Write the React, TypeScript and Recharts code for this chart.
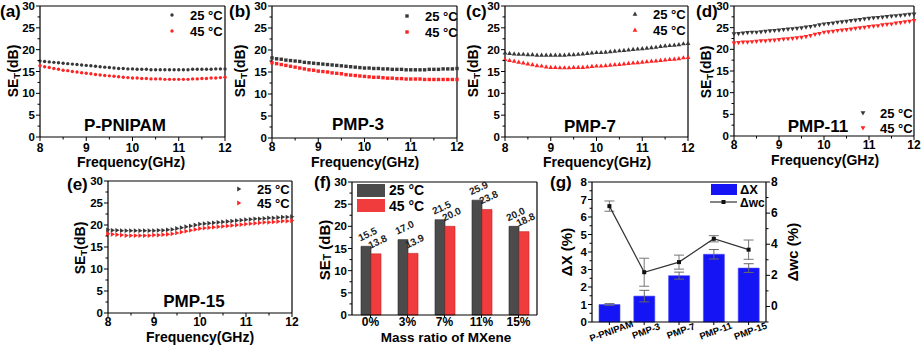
import React from "react";
import {
  ScatterChart,
  Scatter,
  XAxis,
  YAxis,
  BarChart,
  Bar,
  LabelList,
  ComposedChart,
  Line,
  ErrorBar,
} from "recharts";

const FONT = "'Liberation Sans', Arial, Helvetica, sans-serif";

// shared frequency axis (GHz)
const FREQ = [
  8.0, 8.1, 8.2, 8.3, 8.4, 8.5, 8.6, 8.7, 8.8, 8.9, 9.0, 9.1, 9.2, 9.3, 9.4, 9.5, 9.6, 9.7, 9.8, 9.9, 10.0,
  10.1, 10.2, 10.3, 10.4, 10.5, 10.6, 10.7, 10.8, 10.9, 11.0, 11.1, 11.2, 11.3, 11.4, 11.5, 11.6, 11.7, 11.8,
  11.9, 12.0,
];

// (a) P-PNIPAM
const PNIPAM_25 = [17.4,17.3,17.2,17.1,17.0,16.9,16.8,16.7,16.6,16.5,16.4,16.3,16.2,16.1,16.0,15.9,15.8,15.7,15.7,15.6,15.6,15.5,15.5,15.5,15.4,15.4,15.4,15.4,15.4,15.4,15.4,15.4,15.4,15.5,15.5,15.5,15.5,15.5,15.6,15.6,15.6];
const PNIPAM_45 = [16.3,16.1,15.9,15.7,15.5,15.3,15.2,15.0,14.9,14.7,14.6,14.5,14.3,14.2,14.1,14.0,13.9,13.8,13.7,13.6,13.5,13.5,13.4,13.4,13.3,13.3,13.3,13.2,13.2,13.2,13.2,13.2,13.2,13.3,13.3,13.4,13.4,13.5,13.5,13.6,13.7];
// (b) PMP-3
const PMP3_25 = [18.2,18.0,17.9,17.7,17.6,17.5,17.4,17.2,17.1,17.0,16.9,16.8,16.7,16.6,16.5,16.4,16.3,16.2,16.1,16.0,15.9,15.9,15.8,15.8,15.7,15.7,15.6,15.6,15.6,15.5,15.5,15.5,15.5,15.5,15.6,15.6,15.6,15.7,15.7,15.7,15.8];
const PMP3_45 = [17.1,16.9,16.7,16.5,16.3,16.1,15.9,15.7,15.5,15.4,15.2,15.1,15.0,14.8,14.7,14.6,14.4,14.3,14.2,14.1,14.0,13.9,13.8,13.8,13.7,13.6,13.6,13.5,13.5,13.4,13.4,13.4,13.4,13.3,13.3,13.3,13.3,13.3,13.3,13.3,13.3];
// (c) PMP-7
const PMP7_25 = [19.3,19.2,19.1,19.0,19.0,18.9,18.9,18.8,18.8,18.8,18.8,18.8,18.8,18.8,18.9,18.9,19.0,19.1,19.2,19.3,19.4,19.4,19.5,19.6,19.7,19.8,19.9,20.0,20.1,20.2,20.3,20.4,20.5,20.6,20.8,20.9,21.0,21.1,21.2,21.4,21.5];
const PMP7_45 = [17.8,17.6,17.4,17.2,17.0,16.8,16.6,16.4,16.3,16.1,16.0,16.0,15.9,15.9,15.9,16.0,16.0,16.0,16.1,16.2,16.3,16.3,16.4,16.5,16.6,16.7,16.8,16.9,17.0,17.1,17.2,17.3,17.4,17.5,17.6,17.7,17.8,17.9,18.0,18.2,18.3];
// (d) PMP-11
const PMP11_25 = [23.5,23.6,23.7,23.8,23.9,23.9,24.0,24.1,24.2,24.3,24.4,24.5,24.6,24.7,24.8,24.9,25.1,25.2,25.4,25.6,25.8,25.9,26.0,26.2,26.3,26.4,26.6,26.7,26.8,27.0,27.1,27.2,27.3,27.4,27.5,27.6,27.7,27.8,27.9,28.0,28.1];
const PMP11_45 = [21.4,21.5,21.6,21.6,21.7,21.8,21.9,21.9,22.0,22.1,22.2,22.3,22.4,22.5,22.6,22.7,22.9,23.1,23.4,23.6,23.9,24.0,24.1,24.3,24.4,24.5,24.6,24.8,24.9,25.0,25.2,25.3,25.4,25.6,25.7,25.8,26.0,26.1,26.3,26.4,26.6];
// (e) PMP-15
const PMP15_25 = [18.9,18.8,18.8,18.7,18.7,18.7,18.7,18.7,18.7,18.7,18.7,18.8,18.8,18.9,19.0,19.2,19.4,19.6,19.8,20.0,20.2,20.3,20.4,20.5,20.6,20.7,20.8,20.9,21.0,21.1,21.2,21.3,21.4,21.4,21.5,21.6,21.6,21.7,21.8,21.8,21.9];
const PMP15_45 = [18.0,17.9,17.8,17.7,17.6,17.6,17.6,17.6,17.6,17.6,17.7,17.7,17.8,17.9,18.0,18.2,18.4,18.6,18.8,19.0,19.2,19.3,19.4,19.5,19.6,19.7,19.8,19.9,20.0,20.1,20.2,20.3,20.4,20.5,20.6,20.6,20.7,20.8,20.9,20.9,21.0];

// (f) average SE_T per mass ratio
const MASS_RATIOS = ["0%", "3%", "7%", "11%", "15%"];
const SE_AVG_25 = [15.5, 17.0, 21.5, 25.9, 20.0];
const SE_AVG_45 = [13.8, 13.9, 20.0, 23.8, 18.8];

// (g) ΔX (bars, left) and Δwc (line, right)
const SAMPLES = ["P-PNIPAM", "PMP-3", "PMP-7", "PMP-11", "PMP-15"];
const DELTA_X = [1.0, 1.48, 2.65, 3.87, 3.08];
const DELTA_X_ERR = [0.05, 0.33, 0.2, 0.27, 0.25];
const DELTA_WC = [6.45, 2.2, 2.85, 4.35, 3.65];
const DELTA_WC_ERR = [0.33, 0.9, 0.45, 0.2, 0.62];

const FREQ_TICKS = [8, 8.5, 9, 9.5, 10, 10.5, 11, 11.5, 12];
const SE_TICKS = [0, 2.5, 5, 7.5, 10, 12.5, 15, 17.5, 20, 22.5, 25, 27.5, 30];
const DX_TICKS = [0, 0.5, 1, 1.5, 2, 2.5, 3, 3.5, 4, 4.5, 5, 5.5, 6, 6.5, 7, 7.5, 8];
const WC_TICKS = [-1, 0, 1, 2, 3, 4, 5, 6, 7, 8];

const C25 = "#383838";
const C45 = "#ff2424";
const AXIS = { stroke: "#000", strokeWidth: 1.2 };
const PAD = 45;
// axes get 1px of room each (recharts skips zero-sized axes)
const MARGIN = { top: PAD - 1, right: PAD - 1, bottom: PAD - 1, left: PAD - 1 };

function BottomTick(props: any) {
  const { x, y, payload, off = 15 } = props;
  const major = Number.isInteger(payload.value);
  return (
    <g>
      <line x1={x} x2={x} y1={y} y2={y + (major ? 4 : 2.5)} stroke="#000" />
      {major && (
        <text x={x} y={y + off} textAnchor="middle" fontSize={12} fontWeight="bold" fontFamily={FONT} fill="#000">
          {payload.value}
        </text>
      )}
    </g>
  );
}

function LeftTick(props: any) {
  const { x, y, payload, every } = props;
  const major = payload.value % every === 0;
  return (
    <g>
      <line x1={x} x2={x - (major ? 4 : 2.5)} y1={y} y2={y} stroke="#000" />
      {major && (
        <text x={x - 5} y={y + 4} textAnchor="end" fontSize={11.5} fontWeight="bold" fontFamily={FONT} fill="#000">
          {payload.value}
        </text>
      )}
    </g>
  );
}

function RightTick(props: any) {
  const { x, y, payload } = props;
  const v = payload.value;
  const major = v >= 0 && v % 2 === 0;
  return (
    <g>
      <line x1={x} x2={x + (major ? 4 : 2.5)} y1={y} y2={y} stroke="#000" />
      {major && (
        <text x={x + 5} y={y + 4} fontSize={12} fontWeight="bold" fontFamily={FONT} fill="#000">
          {v}
        </text>
      )}
    </g>
  );
}

function CatTick(props: any) {
  const { x, y, payload } = props;
  return (
    <g>
      <line x1={x} x2={x} y1={y} y2={y + 3} stroke="#000" />
      <text x={x} y={y + 11} textAnchor="middle" fontSize={12} fontWeight="bold" fontFamily={FONT} fill="#000">
        {payload.value}
      </text>
    </g>
  );
}

function SampleTick(props: any) {
  const { x, y, payload } = props;
  const tx = x + 3;
  const ty = y + 12;
  return (
    <g>
      <line x1={x} x2={x} y1={y} y2={y + 3} stroke="#000" />
      <text
        x={tx}
        y={ty}
        textAnchor="middle"
        fontSize={9.5}
        fontWeight="bold"
        fontFamily={FONT}
        fill="#000"
        transform={`rotate(-20 ${tx} ${ty})`}
      >
        {payload.value}
      </text>
    </g>
  );
}

type Shape = "circle" | "square" | "up" | "down" | "right";

function Marker({ cx, cy, shape, color }: { cx: number; cy: number; shape: Shape; color: string }) {
  if (cx == null || cy == null) return null;
  switch (shape) {
    case "circle":
      return <circle cx={cx} cy={cy} r={1.7} fill={color} />;
    case "square":
      return <rect x={cx - 1.7} y={cy - 1.7} width={3.4} height={3.4} fill={color} />;
    case "up":
      return <polygon points={`${cx},${cy - 2.4} ${cx - 2.4},${cy + 1.8} ${cx + 2.4},${cy + 1.8}`} fill={color} />;
    case "down":
      return <polygon points={`${cx},${cy + 2.4} ${cx - 2.4},${cy - 1.8} ${cx + 2.4},${cy - 1.8}`} fill={color} />;
    default:
      return <polygon points={`${cx + 2.4},${cy} ${cx - 1.8},${cy - 2.4} ${cx - 1.8},${cy + 2.4}`} fill={color} />;
  }
}

interface SePanelProps {
  left: number;
  top: number;
  w: number;
  h: number;
  s25: number[];
  s45: number[];
  shape: Shape;
  tickOff?: number;
}

function SePanel({ left, top, w, h, s25, s45, shape, tickOff = 15 }: SePanelProps) {
  const d25 = FREQ.map((f, i) => ({ f, v: s25[i] }));
  const d45 = FREQ.map((f, i) => ({ f, v: s45[i] }));
  return (
    <div style={{ position: "absolute", left: left - PAD, top: top - PAD }}>
      <ScatterChart width={w + 2 * PAD} height={h + 2 * PAD} margin={MARGIN}>
        <XAxis
          type="number"
          dataKey="f"
          domain={[8, 12]}
          ticks={FREQ_TICKS}
          interval={0}
          height={1}
          tickSize={0}
          tickMargin={0}
          tickLine={false}
          axisLine={AXIS}
          tick={(p: any) => <BottomTick {...p} off={tickOff} />}
        />
        <XAxis xAxisId="top" orientation="top" type="number" domain={[8, 12]} height={1} tick={false} tickLine={false} axisLine={AXIS} />
        <YAxis
          type="number"
          dataKey="v"
          domain={[0, 30]}
          ticks={SE_TICKS}
          interval={0}
          width={1}
          tickSize={0}
          tickMargin={0}
          tickLine={false}
          axisLine={AXIS}
          tick={(p: any) => <LeftTick {...p} every={5} />}
        />
        <YAxis yAxisId="right" orientation="right" type="number" domain={[0, 30]} width={1} tick={false} tickLine={false} axisLine={AXIS} />
        <Scatter data={d25} isAnimationActive={false} shape={(p: any) => <Marker cx={p.cx} cy={p.cy} shape={shape} color={C25} />} />
        <Scatter data={d45} isAnimationActive={false} shape={(p: any) => <Marker cx={p.cx} cy={p.cy} shape={shape} color={C45} />} />
      </ScatterChart>
    </div>
  );
}

function BarValue(props: any) {
  const { x, y, width, value } = props;
  const cx = x + width / 2 + 3;
  const cy = y - 9;
  return (
    <text
      x={cx}
      y={cy}
      textAnchor="middle"
      fontSize={10}
      fontWeight="bold"
      fontFamily={FONT}
      fill="#222"
      transform={`rotate(-25 ${cx} ${cy})`}
    >
      {Number(value).toFixed(1)}
    </text>
  );
}

function MassPanel() {
  const left = 352, top = 182, w = 185, h = 133;
  const data = MASS_RATIOS.map((c, i) => ({ c, t25: SE_AVG_25[i], t45: SE_AVG_45[i] }));
  return (
    <div style={{ position: "absolute", left: left - PAD, top: top - PAD }}>
      <BarChart width={w + 2 * PAD} height={h + 2 * PAD} data={data} margin={MARGIN} barGap={0}>
        <XAxis
          dataKey="c"
          interval={0}
          height={1}
          tickSize={0}
          tickMargin={0}
          tickLine={false}
          axisLine={AXIS}
          tick={(p: any) => <CatTick {...p} />}
        />
        <XAxis xAxisId="top" dataKey="c" orientation="top" height={1} tick={false} tickLine={false} axisLine={AXIS} />
        <YAxis
          type="number"
          domain={[0, 30]}
          ticks={SE_TICKS}
          interval={0}
          width={1}
          tickSize={0}
          tickMargin={0}
          tickLine={false}
          axisLine={AXIS}
          tick={(p: any) => <LeftTick {...p} every={5} />}
        />
        <YAxis yAxisId="right" orientation="right" type="number" domain={[0, 30]} width={1} tick={false} tickLine={false} axisLine={AXIS} />
        <Bar dataKey="t25" fill="#4b4b4b" stroke="#2a2a2a" strokeWidth={0.6} barSize={10} isAnimationActive={false}>
          <LabelList dataKey="t25" content={(p: any) => <BarValue {...p} />} />
        </Bar>
        <Bar dataKey="t45" fill="#f03c3c" stroke="#c42424" strokeWidth={0.6} barSize={10} isAnimationActive={false}>
          <LabelList dataKey="t45" content={(p: any) => <BarValue {...p} />} />
        </Bar>
      </BarChart>
    </div>
  );
}

function WcDot(props: any) {
  const { cx, cy } = props;
  if (cx == null || cy == null) return null;
  return <rect x={cx - 2} y={cy - 2} width={4} height={4} fill="#111" />;
}

function SwellPanel() {
  const left = 592, top = 182, w = 174, h = 140;
  const data = SAMPLES.map((s, i) => ({
    s,
    dx: DELTA_X[i],
    dxErr: DELTA_X_ERR[i],
    wc: DELTA_WC[i],
    wcErr: DELTA_WC_ERR[i],
  }));
  return (
    <div style={{ position: "absolute", left: left - PAD, top: top - PAD }}>
      <ComposedChart width={w + 2 * PAD} height={h + 2 * PAD} data={data} margin={MARGIN}>
        <XAxis
          dataKey="s"
          interval={0}
          height={1}
          tickSize={0}
          tickMargin={0}
          tickLine={false}
          axisLine={AXIS}
          tick={(p: any) => <SampleTick {...p} />}
        />
        <XAxis xAxisId="top" dataKey="s" orientation="top" height={1} tick={false} tickLine={false} axisLine={AXIS} />
        <YAxis
          yAxisId="l"
          type="number"
          domain={[0, 8]}
          ticks={DX_TICKS}
          interval={0}
          width={1}
          tickSize={0}
          tickMargin={0}
          tickLine={false}
          axisLine={AXIS}
          tick={(p: any) => <LeftTick {...p} every={1} />}
        />
        <YAxis
          yAxisId="r"
          orientation="right"
          type="number"
          domain={[-1, 8]}
          ticks={WC_TICKS}
          interval={0}
          width={1}
          tickSize={0}
          tickMargin={0}
          tickLine={false}
          axisLine={AXIS}
          tick={(p: any) => <RightTick {...p} />}
        />
        <Bar yAxisId="l" dataKey="dx" fill="#1414f5" stroke="#4a4aff" strokeWidth={0.6} barSize={21} isAnimationActive={false}>
          <ErrorBar dataKey="dxErr" width={5} stroke="#666" strokeWidth={1} />
        </Bar>
        <Line
          yAxisId="r"
          dataKey="wc"
          type="linear"
          stroke="#333"
          strokeWidth={1.2}
          dot={(p: any) => <WcDot key={p.index} {...p} />}
          isAnimationActive={false}
        >
          <ErrorBar dataKey="wcErr" width={5} stroke="#777" strokeWidth={1} />
        </Line>
      </ComposedChart>
    </div>
  );
}

function SeLabel({ x, y, size = 14, space = false }: { x: number; y: number; size?: number; space?: boolean }) {
  return (
    <text
      x={x}
      y={y}
      fontSize={size}
      fontWeight="bold"
      fontFamily={FONT}
      textAnchor="middle"
      dominantBaseline="central"
      transform={`rotate(-90 ${x} ${y})`}
    >
      SE<tspan fontSize={size * 0.7} dy={3}>T</tspan>
      <tspan dy={-3}>{space ? " (dB)" : "(dB)"}</tspan>
    </text>
  );
}

function Txt({
  x,
  y,
  size = 12,
  anchor = "start",
  fill = "#000",
  children,
}: {
  x: number;
  y: number;
  size?: number;
  anchor?: "start" | "middle" | "end";
  fill?: string;
  children: React.ReactNode;
}) {
  return (
    <text x={x} y={y} fontSize={size} fontWeight="bold" fontFamily={FONT} textAnchor={anchor} fill={fill}>
      {children}
    </text>
  );
}

function LegendPair({ mx, tx, y1, y2, shape }: { mx: number; tx: number; y1: number; y2: number; shape: Shape }) {
  return (
    <g>
      <Marker cx={mx} cy={y1} shape={shape} color={C25} />
      <Txt x={tx} y={y1 + 4.5} size={13}>25 °C</Txt>
      <Marker cx={mx} cy={y2} shape={shape} color={C45} />
      <Txt x={tx} y={y2 + 4.5} size={13}>45 °C</Txt>
    </g>
  );
}

function Overlay() {
  return (
    <svg width={921} height={345} style={{ position: "absolute", left: 0, top: 0, pointerEvents: "none" }}>
      {/* panel letters */}
      <Txt x={0} y={17} size={17}>(a)</Txt>
      <Txt x={229} y={17} size={17}>(b)</Txt>
      <Txt x={466} y={17} size={17}>(c)</Txt>
      <Txt x={696} y={17} size={17}>(d)</Txt>
      <Txt x={67} y={190} size={17}>(e)</Txt>
      <Txt x={314} y={188} size={17}>(f)</Txt>
      <Txt x={550} y={188} size={17}>(g)</Txt>

      {/* y titles */}
      <SeLabel x={13} y={71} />
      <SeLabel x={240} y={71} />
      <SeLabel x={473} y={71} />
      <SeLabel x={706} y={72} />
      <SeLabel x={80} y={248} />
      <SeLabel x={324} y={250} size={15} space />
      <text x={566} y={252} fontSize={15} fontWeight="bold" fontFamily={FONT} textAnchor="middle" dominantBaseline="central" transform="rotate(-90 566 252)">
        ΔX (%)
      </text>
      <text x={792} y={252} fontSize={15} fontWeight="bold" fontFamily={FONT} textAnchor="middle" dominantBaseline="central" transform="rotate(-90 792 252)">
        Δwc (%)
      </text>

      {/* x titles */}
      <Txt x={131} y={167} size={14} anchor="middle">Frequency(GHz)</Txt>
      <Txt x={365} y={167} size={14} anchor="middle">Frequency(GHz)</Txt>
      <Txt x={597} y={167} size={14} anchor="middle">Frequency(GHz)</Txt>
      <Txt x={825} y={165} size={14} anchor="middle">Frequency(GHz)</Txt>
      <Txt x={200} y={342} size={14} anchor="middle">Frequency(GHz)</Txt>
      <Txt x={446} y={341.5} size={13.5} anchor="middle">Mass ratio of MXene</Txt>

      {/* sample names */}
      <Txt x={125} y={131} size={17} anchor="middle">P-PNIPAM</Txt>
      <Txt x={358} y={130} size={17} anchor="middle">PMP-3</Txt>
      <Txt x={590} y={132} size={17} anchor="middle">PMP-7</Txt>
      <Txt x={818} y={132} size={17} anchor="middle">PMP-11</Txt>
      <Txt x={194} y={307} size={17} anchor="middle">PMP-15</Txt>

      {/* legends */}
      <LegendPair mx={172} tx={190} y1={15} y2={31} shape="circle" />
      <LegendPair mx={407} tx={425} y1={16} y2={32} shape="square" />
      <LegendPair mx={635} tx={653} y1={14} y2={30} shape="up" />
      <LegendPair mx={863} tx={880} y1={113} y2={128} shape="down" />
      <LegendPair mx={239} tx={257} y1={189} y2={203} shape="right" />

      <rect x={357} y={184} width={28} height={13} fill="#4b4b4b" />
      <Txt x={389} y={195} size={14}>25 °C</Txt>
      <rect x={357} y={199} width={28} height={13} fill="#f03c3c" />
      <Txt x={389} y={211} size={14}>45 °C</Txt>

      <rect x={711} y={184} width={26} height={11} fill="#1414f5" />
      <Txt x={740} y={194} size={13}>ΔX</Txt>
      <line x1={710} x2={737} y1={202} y2={202} stroke="#333" strokeWidth={1.2} />
      <rect x={721.5} y={200} width={4} height={4} fill="#111" />
      <Txt x={740} y={207} size={12}>Δwc</Txt>
    </svg>
  );
}

export default function App() {
  return (
    <div style={{ position: "fixed", left: 0, top: 0, width: 921, height: 345, background: "#fff", overflow: "hidden" }}>
      <SePanel left={40} top={6} w={185} h={131} s25={PNIPAM_25} s45={PNIPAM_45} shape="circle" />
      <SePanel left={272} top={6} w={185} h={132} s25={PMP3_25} s45={PMP3_45} shape="square" tickOff={13} />
      <SePanel left={505} top={6} w={183} h={131} s25={PMP7_25} s45={PMP7_45} shape="up" />
      <SePanel left={734} top={6} w={180} h={130} s25={PMP11_25} s45={PMP11_45} shape="down" tickOff={13} />
      <SePanel left={108} top={181} w={184} h={132} s25={PMP15_25} s45={PMP15_45} shape="right" tickOff={13} />
      <MassPanel />
      <SwellPanel />
      <Overlay />
    </div>
  );
}
